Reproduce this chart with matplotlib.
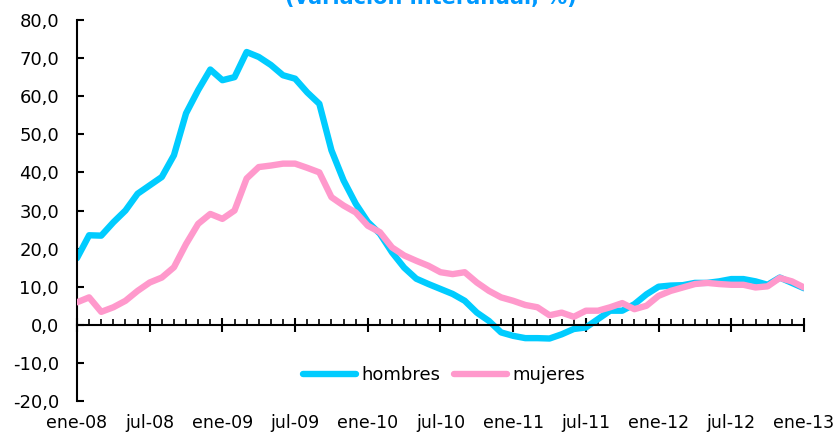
import matplotlib
matplotlib.use("Agg")
import matplotlib.pyplot as plt
from matplotlib.ticker import MultipleLocator, FuncFormatter

# ---- data (monthly, ene-08 .. ene-13) ----
hombres = [17.5, 23.5, 23.4, 26.9, 30.0, 34.4, 36.6, 38.8, 44.5, 55.5,
           61.6, 67.0, 64.2, 65.0, 71.6, 70.3, 68.2, 65.5, 64.6, 61.0,
           58.0, 45.8, 37.9, 31.8, 27.0, 23.9, 19.0, 15.0, 12.1, 10.7,
           9.4, 8.1, 6.3, 3.2, 1.0, -2.0, -2.9, -3.5, -3.5, -3.6,
           -2.5, -1.1, -0.7, 1.5, 3.7, 3.7, 5.4, 8.0, 10.0, 10.3,
           10.4, 11.0, 11.0, 11.4, 12.0, 12.0, 11.4, 10.5, 12.4, 11.0, 9.6]
mujeres = [5.9, 7.2, 3.4, 4.6, 6.3, 8.9, 11.1, 12.4, 15.1, 21.2,
           26.5, 29.1, 27.8, 30.0, 38.4, 41.4, 41.8, 42.3, 42.3, 41.2,
           40.0, 33.5, 31.3, 29.5, 26.0, 24.3, 20.3, 18.2, 16.8, 15.5,
           13.8, 13.3, 13.8, 11.1, 8.9, 7.2, 6.3, 5.2, 4.6, 2.5,
           3.2, 2.1, 3.7, 3.7, 4.6, 5.7, 4.1, 5.0, 7.6, 8.9,
           9.8, 10.7, 11.0, 10.7, 10.5, 10.5, 9.8, 10.1, 12.3, 11.4, 9.8]
tick_labels = ["ene-08", "jul-08", "ene-09", "jul-09", "ene-10", "jul-10",
               "ene-11", "jul-11", "ene-12", "jul-12", "ene-13"]
title = "(variación interanual, %)"

months = list(range(len(hombres)))
major_pos = list(range(0, len(hombres), 6))

c_h = "#00CCFF"
c_m = "#FF99CC"

plt.rcParams['font.family'] = ['DejaVu Sans']

fig = plt.figure(figsize=(8.37, 4.33), dpi=100)
ax = fig.add_axes([77/837, 1-401/433, (804-77)/837, (401-20)/433])

ax.plot(months, mujeres, color=c_m, lw=4.6, solid_capstyle='round',
        solid_joinstyle='round', label="mujeres", zorder=3)
ax.plot(months, hombres, color=c_h, lw=4.6, solid_capstyle='round',
        solid_joinstyle='round', label="hombres", zorder=2)

ax.set_xlim(0, len(hombres) - 1)
ax.set_ylim(-20, 80)

for s in ['top', 'right']:
    ax.spines[s].set_visible(False)
ax.spines['bottom'].set_position(('data', 0))
ax.spines['bottom'].set_linewidth(1.5)
ax.spines['left'].set_linewidth(1.5)
ax.spines['left'].set_bounds(-20, 80)

ax.yaxis.set_major_locator(MultipleLocator(10))
ax.yaxis.set_major_formatter(FuncFormatter(lambda v, p: f"{v:.1f}".replace(".", ",")))
ax.tick_params(axis='y', direction='in', length=5, width=1.5, labelsize=13, pad=13)

ax.set_xticks(major_pos)
ax.set_xticks(months, minor=True)
ax.tick_params(axis='x', which='major', direction='inout', length=10, width=1.5, labelbottom=False)
ax.tick_params(axis='x', which='minor', direction='in', length=4, width=1.2)

sec = ax.secondary_xaxis(0.0)
sec.set_xticks(major_pos, tick_labels)
sec.spines['bottom'].set_visible(False)
sec.tick_params(axis='x', length=0, labelsize=12.5, pad=9.5)

handles, labels = ax.get_legend_handles_labels()
order = [labels.index("hombres"), labels.index("mujeres")]
ax.legend([handles[i] for i in order], [labels[i] for i in order],
          loc='center', bbox_to_anchor=(0.505, 0.068), ncol=2, frameon=False,
          fontsize=13, handlelength=2.9, handletextpad=0.3, columnspacing=0.8)

fig.text(431/837, 1 - 4/433, title, ha='center', va='baseline',
         fontsize=15, fontweight='bold', color="#0099FF")

fig.savefig("out.png", dpi=100)
